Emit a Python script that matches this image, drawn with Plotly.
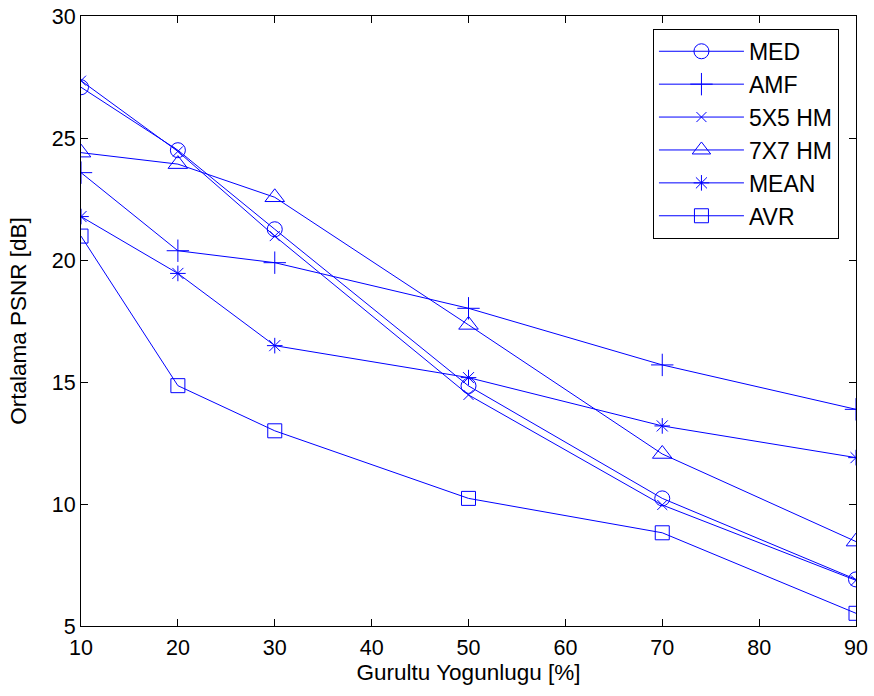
import plotly.graph_objects as go

x_vals = [10, 20, 30, 50, 70, 90]
series_names = ["MED", "AMF", "5X5 HM", "7X7 HM", "MEAN", "AVR"]
med = [27.08, 24.5, 21.26, 14.84, 10.23, 6.91]
amf = [23.58, 20.38, 19.89, 18.02, 15.7, 13.88]
hm5 = [27.35, 24.45, 20.98, 14.47, 9.96, 6.87]
hm7 = [24.4, 23.93, 22.57, 17.34, 12.05, 8.46]
mean = [21.78, 19.45, 16.49, 15.18, 13.2, 11.9]
avr = [20.98, 14.85, 13.0, 10.23, 8.82, 5.52]
x_ticks = [10, 20, 30, 40, 50, 60, 70, 80, 90]
y_ticks = [5, 10, 15, 20, 25, 30]

series = [med, amf, hm5, hm7, mean, avr]
symbols = ["circle-open", "cross-thin-open", "x-thin-open", "triangle-up-open", "asterisk-open", "square-open"]
sizes = [15, 16, 10, 17, 13, 14]

FONT = "Liberation Sans, Arial"
FS = 21.5
TFS = 22.5

fig = go.Figure()
for name, ys, sym, sz in zip(series_names, series, symbols, sizes):
    fig.add_trace(go.Scatter(
        x=x_vals, y=ys, name=name, mode="lines+markers",
        line=dict(color="rgb(0,0,255)", width=1),
        marker=dict(symbol=sym, size=sz, color="rgb(0,0,255)", line=dict(color="rgb(0,0,255)", width=1)),
    ))

axis_common = dict(
    showline=True, linecolor="black", linewidth=1, mirror="ticks",
    ticks="inside", ticklen=7, tickcolor="black", showgrid=False, zeroline=False,
    tickfont=dict(family=FONT, size=FS, color="black"), automargin=False,
    ticklabeloverflow="allow",
)
fig.update_xaxes(range=[10, 90], tickvals=x_ticks, ticklabelstandoff=2,
                 title=dict(text="Gurultu Yogunlugu [%]", font=dict(family=FONT, size=TFS, color="black"), standoff=1),
                 **axis_common)
fig.update_yaxes(range=[5, 30], tickvals=y_ticks,
                 title=dict(text="Ortalama PSNR [dB]", font=dict(family=FONT, size=TFS, color="black"), standoff=18),
                 **axis_common)

fig.update_layout(
    width=874, height=696,
    margin=dict(l=81, r=18, t=16, b=70),
    plot_bgcolor="white", paper_bgcolor="white",
    font=dict(family=FONT, size=FS, color="black"),
    legend=dict(x=0.978, y=0.979, xanchor="right", yanchor="top",
                bordercolor="black", borderwidth=1, bgcolor="white",
                font=dict(size=23), itemwidth=85),
)

fig.write_html("out.html", config={"displayModeBar": False},
               post_script="document.body.style.margin='0';document.body.style.overflow='hidden';")
